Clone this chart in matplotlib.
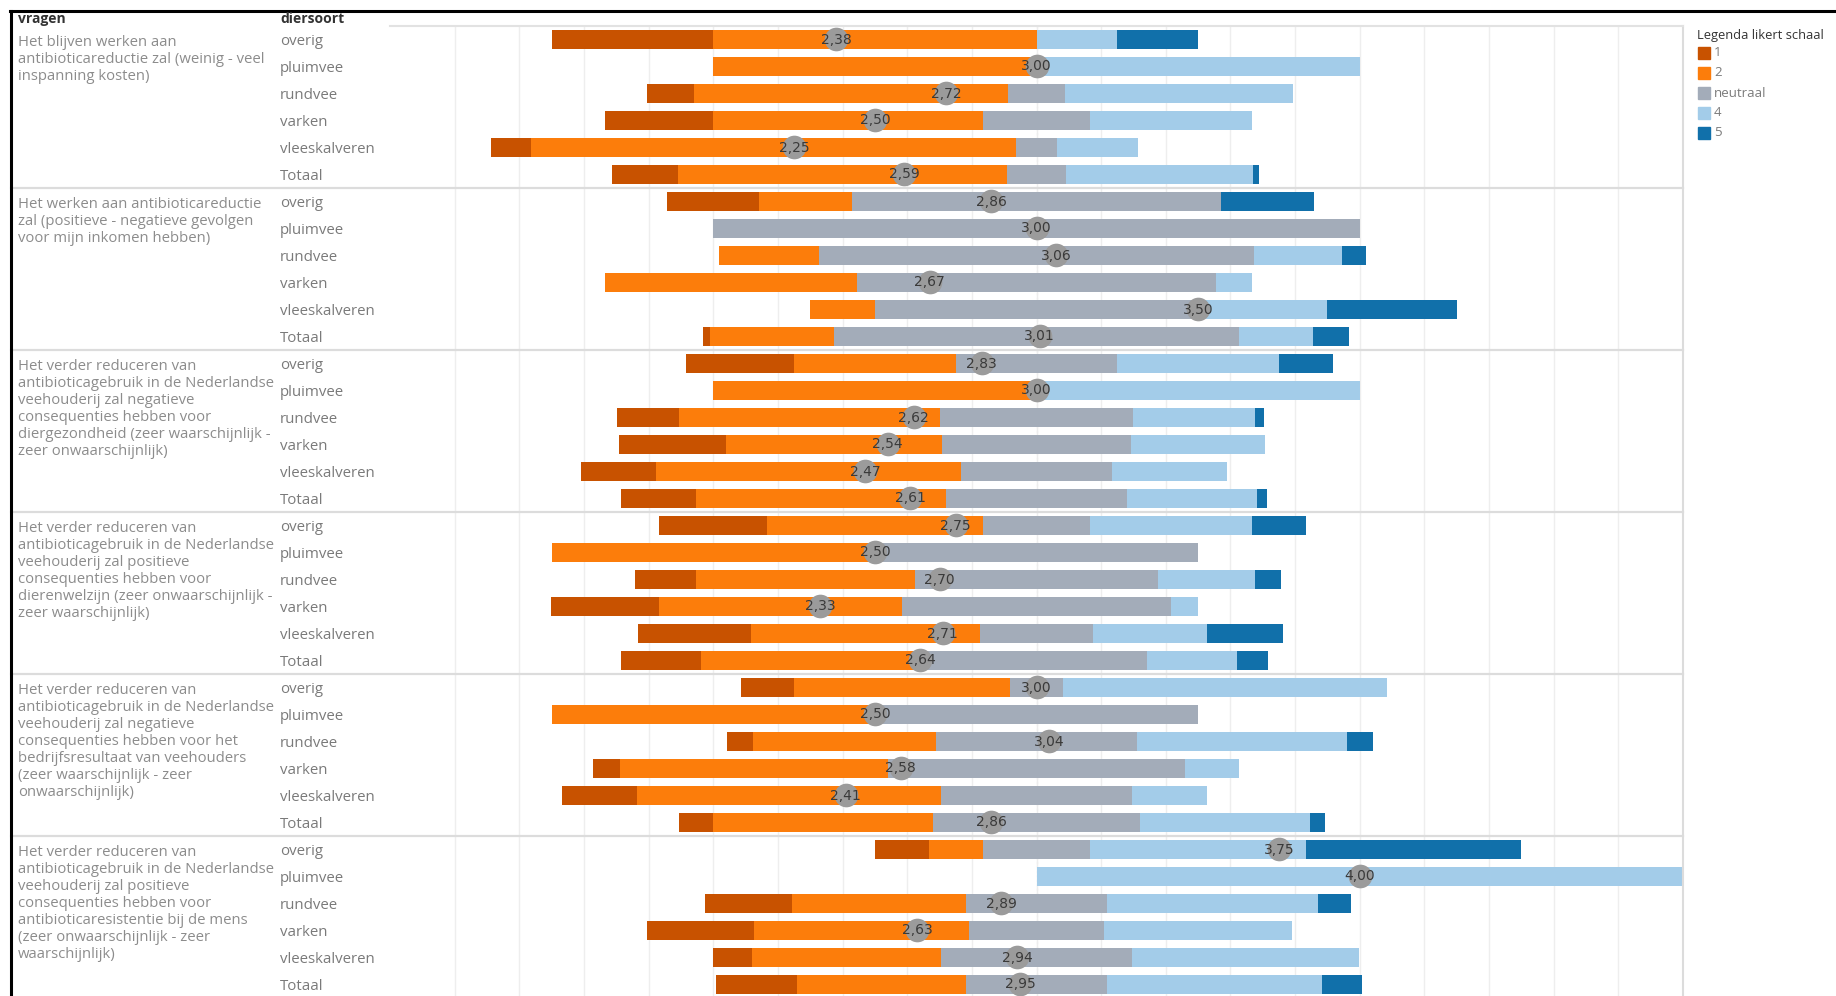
import numpy as np
import matplotlib.pyplot as plt
from matplotlib.lines import Line2D
from matplotlib.patches import Rectangle
from matplotlib.transforms import blended_transform_factory

plt.rcParams['font.family'] = ['Open Sans', 'DejaVu Sans']

## Gegevens
vragen = [
    "Het blijven werken aan\nantibioticareductie zal (weinig - veel\ninspanning kosten)",
    "Het werken aan antibioticareductie\nzal (positieve - negatieve gevolgen\nvoor mijn inkomen hebben)",
    "Het verder reduceren van\nantibioticagebruik in de Nederlandse\nveehouderij zal negatieve\nconsequenties hebben voor\ndiergezondheid (zeer waarschijnlijk -\nzeer onwaarschijnlijk)",
    "Het verder reduceren van\nantibioticagebruik in de Nederlandse\nveehouderij zal positieve\nconsequenties hebben voor\ndierenwelzijn (zeer onwaarschijnlijk -\nzeer waarschijnlijk)",
    "Het verder reduceren van\nantibioticagebruik in de Nederlandse\nveehouderij zal negatieve\nconsequenties hebben voor het\nbedrijfsresultaat van veehouders\n(zeer waarschijnlijk - zeer\nonwaarschijnlijk)",
    "Het verder reduceren van\nantibioticagebruik in de Nederlandse\nveehouderij zal positieve\nconsequenties hebben voor\nantibioticaresistentie bij de mens\n(zeer onwaarschijnlijk - zeer\nwaarschijnlijk)",
]
diersoorten = ["overig", "pluimvee", "rundvee", "varken", "vleeskalveren", "Totaal"]

likert_namen = ["1", "2", "neutraal", "4", "5"]
likert_kleuren = ["#c85200", "#fc7d0b", "#a3acb9", "#a3cce9", "#1170aa"]

# percentages per antwoord (6 vragen x 6 diersoorten)
p1 = [25.0, 0, 7.3, 16.7, 6.25, 10.1,
      14.3, 0, 0, 0, 0, 1.1,
      16.7, 0, 9.5, 16.6, 11.7, 11.5,
      16.7, 0, 9.4, 16.7, 17.6, 12.4,
      8.3, 0, 3.9, 4.1, 11.6, 5.3,
      8.3, 0, 13.4, 16.6, 6.0, 12.4]
p2 = [50.0, 50.0, 48.5, 41.7, 75.0, 50.9,
      14.3, 0, 15.5, 38.9, 10.0, 19.2,
      25.0, 50.0, 40.5, 33.4, 47.1, 38.7,
      33.3, 50.0, 33.8, 37.5, 35.3, 34.8,
      33.3, 50.0, 28.4, 41.5, 47.1, 34.1,
      8.3, 0, 26.9, 33.3, 29.3, 26.2]
p3 = [0, 0, 8.9, 16.7, 6.25, 9.2,
      57.1, 100.0, 67.2, 55.6, 50.0, 62.7,
      25.0, 0, 29.7, 29.2, 23.4, 28.0,
      16.7, 50.0, 37.7, 41.7, 17.6, 34.1,
      8.3, 50.0, 31.0, 45.9, 29.5, 31.9,
      16.7, 0, 21.8, 20.8, 29.5, 21.8]
p4 = [12.5, 50.0, 35.3, 25.0, 12.5, 28.9,
      0, 0, 13.6, 5.6, 20.0, 11.4,
      25.0, 50.0, 19.0, 20.7, 17.7, 20.1,
      25.0, 0, 15.0, 4.2, 17.6, 14.0,
      50.0, 0, 32.5, 8.3, 11.7, 26.4,
      33.3, 100.0, 32.6, 29.1, 35.2, 33.3]
p5 = [12.5, 0, 0, 0, 0, 0.9,
      14.3, 0, 3.7, 0, 20.0, 5.6,
      8.3, 0, 1.3, 0, 0, 1.6,
      8.3, 0, 3.9, 0, 11.8, 4.7,
      0, 0, 4.0, 0, 0, 2.3,
      33.3, 0, 5.2, 0, 0, 6.2]
gemiddelde = [2.38, 3.00, 2.72, 2.50, 2.25, 2.59,
              2.86, 3.00, 3.06, 2.67, 3.50, 3.01,
              2.83, 3.00, 2.62, 2.54, 2.47, 2.61,
              2.75, 2.50, 2.70, 2.33, 2.71, 2.64,
              3.00, 2.50, 3.04, 2.58, 2.41, 2.86,
              3.75, 4.00, 2.89, 2.63, 2.94, 2.95]

## Figuur
W, H = 1836, 996
fig = plt.figure(figsize=(W / 100, H / 100), dpi=100)
ax = fig.add_axes([390 / W, 1 - 998 / H, 1293 / W, 972 / H])

delen = [np.array(p, dtype=float) for p in (p1, p2, p3, p4, p5)]
n = len(p1)
y = np.arange(n) + 0.5
start = -(delen[0] + delen[1] + delen[2] / 2)
for waarden, kleur, naam in zip(delen, likert_kleuren, likert_namen):
    ax.barh(y, waarden, left=start, height=0.74, color=kleur, label=naam, zorder=2)
    start = start + waarden

## gemiddelde als grijze bol
gem = np.array(gemiddelde)
ax.scatter((gem - 3) * 50, y, s=290, color='#9b9b9b', zorder=3, linewidths=0)
for xi, yi, g in zip((gem - 3) * 50, y, gem):
    ax.text(xi, yi, f"{g:.2f}".replace('.', ','), ha='center', va='center',
            fontsize=10, color='#3a3a3a', zorder=4, family=['DejaVu Sans'])

ax.set_xlim(-100, 100)
ax.set_ylim(n, 0)
ax.set_xticks(np.arange(-90, 100, 10))
ax.set_yticks([])
ax.tick_params(length=0, labelbottom=False)
ax.grid(axis='x', color='#eeeeee', lw=1, zorder=0)
ax.axvline(0, color='#c8c8c8', lw=0.8, ls=(0, (2, 2)), zorder=1)
for s in ['left', 'bottom']:
    ax.spines[s].set_visible(False)
ax.spines['top'].set_color('#e2e2e2')
ax.spines['top'].set_linewidth(1.5)
ax.spines['right'].set_color('#dcdcdc')
ax.spines['right'].set_linewidth(1.5)

## labels links
trans = blended_transform_factory(fig.transFigure, ax.transData)
for i in range(n):
    ax.text(280 / W, y[i] + 0.09, diersoorten[i % 6], transform=trans, va='center',
            fontsize=10.8, color='#7a7a7a', clip_on=False)
for g, vraag in enumerate(vragen):
    ax.text(18 / W, g * 6 + 0.32, vraag, transform=trans, va='top',
            fontsize=10.7, color='#8c8c8c', linespacing=1.18, clip_on=False)
    if g > 0:
        ax.plot([11 / W, 1683 / W], [g * 6, g * 6], transform=trans, color='#dcdcdc',
                lw=1.6, clip_on=False, zorder=5)

fig.text(18 / W, 1 - 19 / H, "vragen", va='center', fontsize=10, weight='bold', color='#333333')
fig.text(280 / W, 1 - 19 / H, "diersoort", va='center', fontsize=10, weight='bold', color='#333333')

## legenda
fig.text(1697 / W, 1 - 36 / H, "Legenda likert schaal", va='center', fontsize=9.3, color='#333333')
for k, (naam, kleur) in enumerate(zip(likert_namen, likert_kleuren)):
    yc = 53 + 20 * k
    fig.add_artist(Rectangle((1698 / W, 1 - (yc + 6) / H), 12 / W, 12 / H,
                             transform=fig.transFigure, color=kleur))
    fig.text(1714 / W, 1 - yc / H, naam, va='center', fontsize=9.5, color='#7a7a7a')

## rand
fig.add_artist(Line2D([10 / W, 1], [1 - 11 / H, 1 - 11 / H], color='black', lw=2.2))
fig.add_artist(Line2D([11 / W, 11 / W], [0, 1 - 11 / H], color='black', lw=2.2))

fig.savefig('out.png', dpi=100)
